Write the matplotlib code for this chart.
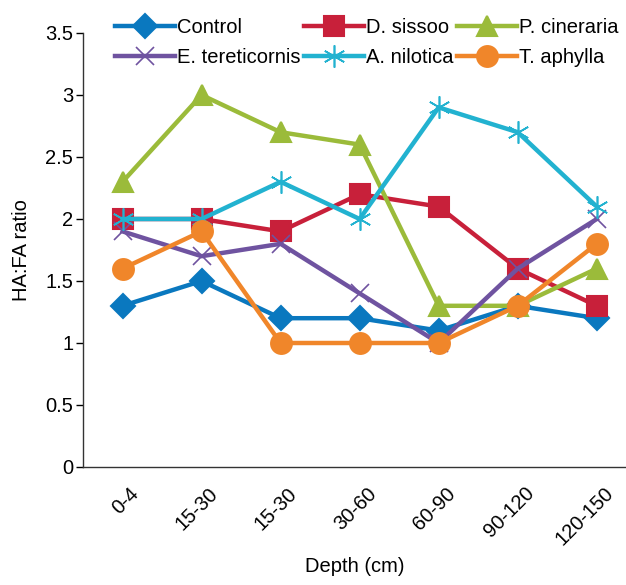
import matplotlib
matplotlib.use("Agg")
import matplotlib.pyplot as plt
import matplotlib.transforms as mtransforms

plt.rcParams['font.family'] = ['Liberation Sans', 'DejaVu Sans']

categories = ["0-4", "15-30", "15-30", "30-60", "60-90", "90-120", "120-150"]
control = [1.3, 1.5, 1.2, 1.2, 1.1, 1.3, 1.2]
d_sissoo = [2.0, 2.0, 1.9, 2.2, 2.1, 1.6, 1.3]
p_cineraria = [2.3, 3.0, 2.7, 2.6, 1.3, 1.3, 1.6]
e_tereticornis = [1.9, 1.7, 1.8, 1.4, 1.0, 1.6, 2.0]
a_nilotica = [2.0, 2.0, 2.3, 2.0, 2.9, 2.7, 2.1]
t_aphylla = [1.6, 1.9, 1.0, 1.0, 1.0, 1.3, 1.8]
yticks = [0, 0.5, 1, 1.5, 2, 2.5, 3, 3.5]
yticklabels = ["0", "0.5", "1", "1.5", "2", "2.5", "3", "3.5"]

FS = 14.5
fig = plt.figure(figsize=(6.26, 5.85), dpi=100)
ax = fig.add_axes([83/626, 1-467/585, 1-83/626, (467-33)/585])
x = list(range(len(categories)))

series = [
    ("Control", control, "#0a78bf", "D", 12, 1.5),
    ("D. sissoo", d_sissoo, "#c8203a", "s", 15, 1.5),
    ("P. cineraria", p_cineraria, "#9bbb3a", "^", 15, 1.5),
    ("E. tereticornis", e_tereticornis, "#6f53a0", "x", 13, 1.2),
    ("A. nilotica", a_nilotica, "#22b2d0", (6, 2, 0), 16, 1.2),
    ("T. aphylla", t_aphylla, "#f0862a", "o", 15, 1.5),
]
handles = {}
for name, vals, col, mk, ms, mew in series:
    h, = ax.plot(x, vals, color=col, lw=3.2, marker=mk, ms=ms, mec=col, mfc=col,
                 mew=mew, label=name, zorder=3)
    handles[name] = h

ax.set_xlim(-0.5, 6.37)
ax.set_ylim(0, 3.5)
ax.set_yticks(yticks)
ax.set_yticklabels(yticklabels, fontsize=FS)
ax.set_xticks(x)
ax.set_xticklabels(categories, rotation=45, ha="right", rotation_mode="anchor", fontsize=FS)
ax.tick_params(axis="x", length=0, pad=12)
ax.tick_params(axis="y", length=5, width=1, pad=2)
offset = mtransforms.ScaledTranslation(7/100, 0, fig.dpi_scale_trans)
for lab in ax.get_xticklabels():
    lab.set_transform(lab.get_transform() + offset)
for s in ["top", "right"]:
    ax.spines[s].set_visible(False)
for s in ["left", "bottom"]:
    ax.spines[s].set_linewidth(1.0)
    ax.spines[s].set_color("#333333")
ax.set_ylabel("HA:FA ratio", fontsize=FS, labelpad=10)
ax.set_xlabel("Depth (cm)", fontsize=FS, labelpad=6)

order = ["Control", "E. tereticornis", "D. sissoo", "A. nilotica", "P. cineraria", "T. aphylla"]
leg = fig.legend([handles[n] for n in order], order, loc="upper left",
                 bbox_to_anchor=(115/626, 1 - 18/585), ncol=3,
                 frameon=False, fontsize=FS, handlelength=3.0, handletextpad=0.1,
                 columnspacing=0.15, labelspacing=0.55, borderaxespad=0.0, borderpad=0.0)
fig.savefig("out.png", dpi=100)
